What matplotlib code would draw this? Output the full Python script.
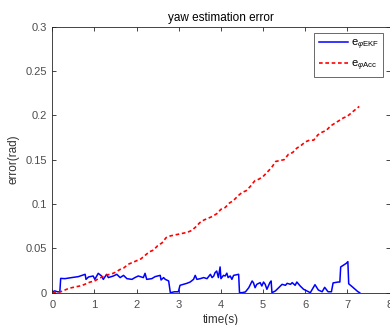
import matplotlib
matplotlib.use("Agg")
import matplotlib.pyplot as plt

plt.rcParams['font.family'] = ['Liberation Sans', 'DejaVu Sans']
plt.rcParams['mathtext.fontset'] = 'custom'
plt.rcParams['mathtext.rm'] = 'Liberation Sans'
plt.rcParams['mathtext.it'] = 'Liberation Sans:italic'

# EKF yaw error (blue)
t_ekf = [0.00, 0.06, 0.12, 0.18, 0.20, 0.30, 0.46, 0.62, 0.78, 0.80, 0.86, 0.97, 1.01, 1.09, 1.17,
         1.21, 1.29, 1.33, 1.45, 1.53, 1.61, 1.69, 1.77, 1.89, 1.96, 2.04, 2.16, 2.20, 2.24,
         2.36, 2.44, 2.56, 2.58, 2.64, 2.68, 2.76, 2.80, 2.90, 2.99, 3.03, 3.11, 3.19, 3.27,
         3.35, 3.39, 3.43, 3.51, 3.59, 3.67, 3.75, 3.79, 3.83, 3.86, 3.90, 3.94, 3.98, 4.00,
         4.06, 4.10, 4.14, 4.17, 4.22, 4.26, 4.30, 4.42, 4.44, 4.50, 4.58, 4.66, 4.74, 4.77,
         4.81, 4.85, 4.93, 4.97, 5.01, 5.05, 5.09, 5.16, 5.19, 5.21, 5.29, 5.37, 5.45, 5.53,
         5.57, 5.65, 5.69, 5.76, 5.80, 5.88, 5.96, 6.04, 6.12, 6.23, 6.31, 6.40, 6.46, 6.54,
         6.62, 6.66, 6.78, 6.82, 6.84, 6.97, 7.01, 7.03, 7.13, 7.25, 7.29]
e_ekf = [0.001, 0.002, 0.001, 0.001, 0.0161, 0.0158, 0.017, 0.0181, 0.0207, 0.015, 0.0177, 0.0188,
         0.015, 0.0218, 0.0188, 0.015, 0.0207, 0.017, 0.0188, 0.0207, 0.017, 0.0195, 0.0158,
         0.015, 0.017, 0.0188, 0.017, 0.0218, 0.015, 0.0158, 0.0181, 0.0195, 0.0143, 0.017,
         0.015, 0.0132, 0.0, 0.001, 0.001, 0.0083, 0.0094, 0.0105, 0.012, 0.015, 0.0195,
         0.015, 0.0158, 0.017, 0.0158, 0.0207, 0.017, 0.0188, 0.0225, 0.0244, 0.017, 0.029,
         0.0158, 0.0195, 0.0188, 0.022, 0.017, 0.0188, 0.015, 0.0195, 0.0207, 0.0, 0.0, 0.0008,
         0.0056, 0.0132, 0.0113, 0.0056, 0.0094, 0.0113, 0.0075, 0.012, 0.0094, 0.0038, 0.0113,
         0.0132, 0.0, 0.0019, 0.0056, 0.0094, 0.0083, 0.0105, 0.0094, 0.0113, 0.0083, 0.012,
         0.0075, 0.0038, 0.0019, 0.0, 0.009, 0.003, 0.001, 0.006, 0.001, 0.001, 0.011, 0.012,
         0.012, 0.029, 0.033, 0.035, 0.010, 0.006, 0.001, 0.0]

# Accelerometer yaw error (red dashed)
t_acc = [0.0, 0.1, 0.2, 0.3, 0.4, 0.5, 0.6, 0.7, 0.8, 0.9, 1.0, 1.1, 1.2, 1.3, 1.4, 1.5, 1.6,
         1.7, 1.8, 1.9, 2.0, 2.1, 2.2, 2.3, 2.4, 2.5, 2.6, 2.7, 2.8, 2.9, 3.0, 3.1, 3.2, 3.3,
         3.4, 3.5, 3.6, 3.7, 3.8, 3.9, 4.0, 4.1, 4.2, 4.3, 4.4, 4.5, 4.6, 4.7, 4.8, 4.9, 5.0,
         5.1, 5.2, 5.3, 5.4, 5.5, 5.6, 5.7, 5.8, 5.9, 6.0, 6.1, 6.2, 6.3, 6.4, 6.5, 6.6, 6.7,
         6.8, 6.9, 7.0, 7.1, 7.2, 7.28]
e_acc = [0.0, 0.0, 0.001, 0.003, 0.005, 0.006, 0.007, 0.008, 0.010, 0.012, 0.013, 0.016, 0.018,
         0.020, 0.021, 0.023, 0.026, 0.028, 0.032, 0.034, 0.036, 0.038, 0.042, 0.046, 0.048,
         0.053, 0.056, 0.062, 0.064, 0.065, 0.066, 0.067, 0.068, 0.070, 0.074, 0.079, 0.082,
         0.084, 0.086, 0.089, 0.094, 0.096, 0.101, 0.104, 0.109, 0.113, 0.115, 0.120, 0.126,
         0.128, 0.131, 0.136, 0.141, 0.148, 0.149, 0.150, 0.156, 0.158, 0.163, 0.166, 0.170,
         0.172, 0.172, 0.178, 0.181, 0.183, 0.188, 0.191, 0.194, 0.197, 0.199, 0.203, 0.207,
         0.210]

xticks = [0, 1, 2, 3, 4, 5, 6, 7, 8]
yticks = [0, 0.05, 0.1, 0.15, 0.2, 0.25, 0.3]
yticklabels = ['0', '0.05', '0.1', '0.15', '0.2', '0.25', '0.3']

fig = plt.figure(figsize=(3.9, 3.25), dpi=100)
ax = fig.add_axes([0.134, 0.0995, 0.865, 0.8185])

ax.plot(t_ekf, e_ekf, color='#0000ff', lw=1.1, label=r'e$_{\varphi\mathrm{EKF}}$')
ax.plot(t_acc, e_acc, color='#ff0000', lw=1.2, ls=(0, (2.2, 1.6)),
        label=r'e$_{\varphi\mathrm{Acc}}$')

ax.set_xlim(0, 8)
ax.set_ylim(0, 0.3)
ax.set_xticks(xticks)
ax.set_yticks(yticks)
ax.set_yticklabels(yticklabels)

gray = '#262626'
for s in ax.spines.values():
    s.set_color(gray)
    s.set_linewidth(0.6)
ax.tick_params(direction='in', length=3, width=0.6, colors=gray, labelcolor='#4d4d4d',
               labelsize=8, top=True, right=True)
ax.tick_params(axis='x', pad=5)
ax.tick_params(axis='y', pad=4)

ax.set_title('yaw estimation error', fontsize=8.5, color='black', pad=4)
ax.set_xlabel('time(s)', fontsize=8.5, color='#333333', labelpad=3)
ax.set_ylabel('error(rad)', fontsize=8.5, color='#333333', labelpad=4)

leg = ax.legend(loc='upper right', fontsize=8, frameon=True, fancybox=False,
                edgecolor=gray, handlelength=2.6, borderaxespad=0.55, labelspacing=0.6,
                handletextpad=0.3, borderpad=0.4)
leg.get_frame().set_linewidth(0.6)

fig.savefig('out.png', dpi=100)
